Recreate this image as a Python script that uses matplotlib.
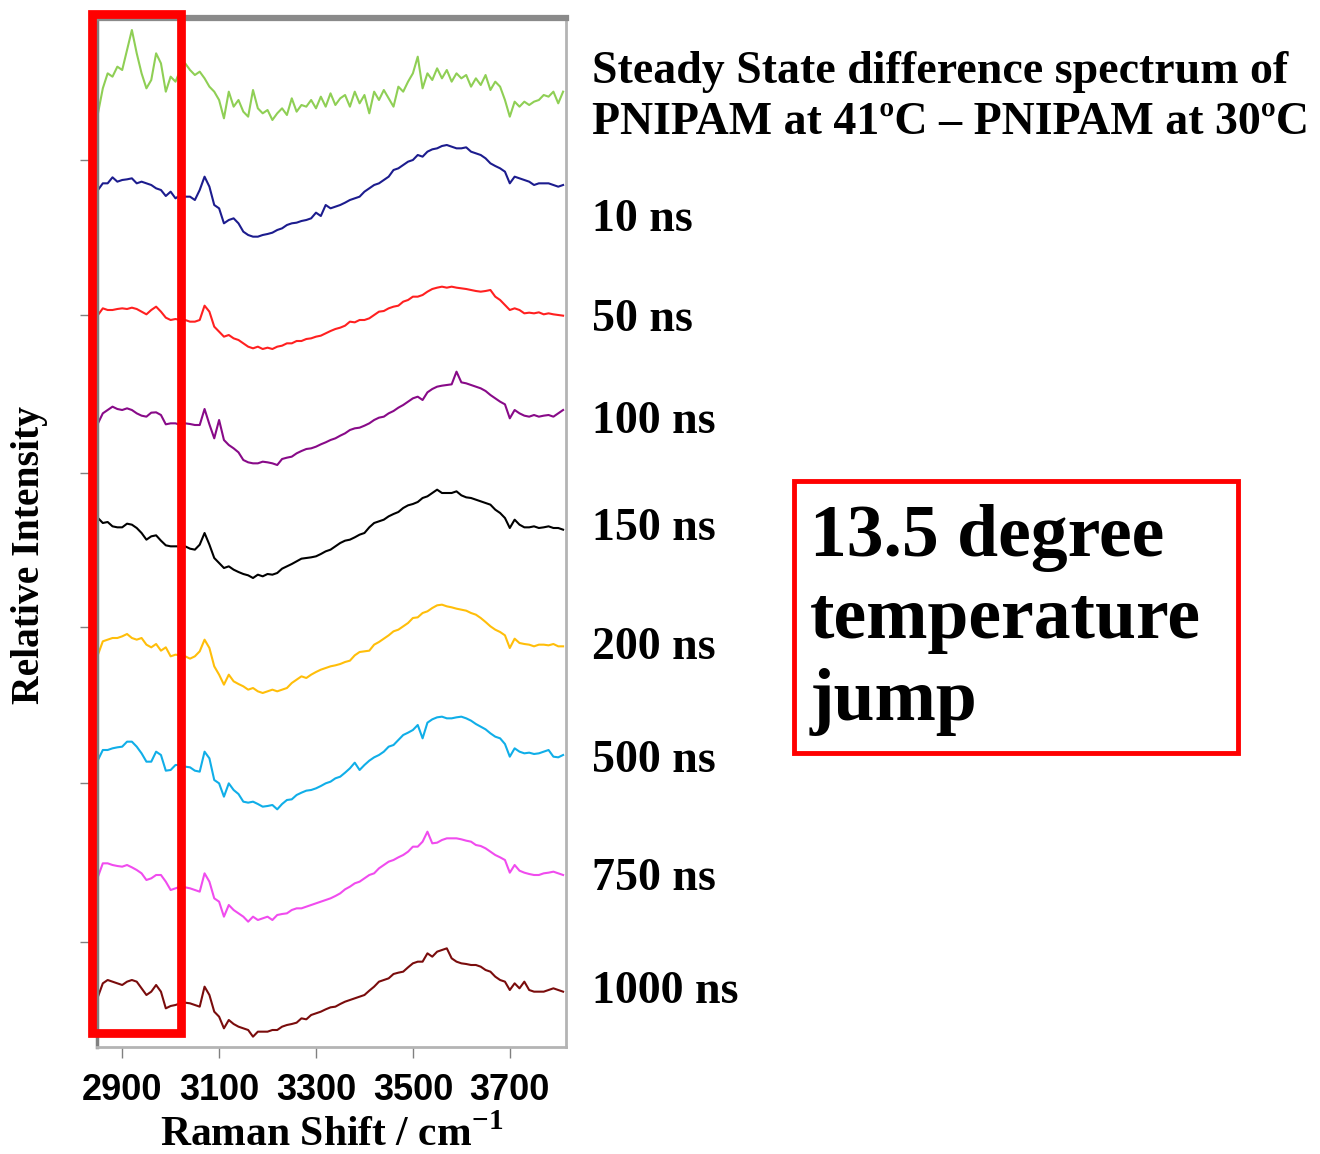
#!/usr/bin/env python3
"""Stacked time-resolved Raman difference spectra (PNIPAM T-jump)"""

import numpy as np
import matplotlib
matplotlib.use('Agg')
import matplotlib.pyplot as plt
from matplotlib.patches import Rectangle

W, H = 1320, 1154

# spectrum grid, cm-1
wavenumber = np.arange(2850, 3811, 10)

# relative intensities (arb. units)
steady = [20, 95, 140, 130, 160, 150, 210, 270, 200, 140,
          95, 120, 200, 170, 85, 130, 115, 150, 170, 150,
          135, 145, 125, 100, 85, 60, 5, 85, 40, 60,
          25, 10, 90, 35, 20, 30, 0, 20, 35, 15,
          65, 25, 45, 40, 60, 35, 70, 40, 80, 45,
          65, 75, 40, 85, 50, 75, 20, 85, 60, 90,
          65, 40, 100, 85, 115, 140, 190, 95, 140, 120,
          155, 125, 150, 115, 140, 125, 135, 100, 125, 105,
          135, 90, 115, 100, 60, 10, 55, 40, 55, 45,
          55, 60, 75, 70, 85, 50, 85]
t10 = [-10, 10, 10, 28, 15, 20, 22, 25, 10, 15,
       10, 5, -5, -10, -28, -15, -35, -25, -30, -30,
       -40, -10, 30, 0, -55, -65, -110, -100, -95, -110,
       -135, -145, -150, -150, -145, -142, -138, -130, -125, -115,
       -110, -108, -103, -100, -95, -78, -88, -55, -65, -60,
       -55, -48, -40, -35, -30, -15, -5, 5, 10, 20,
       30, 50, 55, 65, 75, 80, 95, 90, 105, 112,
       115, 122, 125, 120, 115, 115, 118, 105, 100, 95,
       85, 70, 62, 55, 45, 10, 30, 25, 20, 15,
       5, 10, 10, 10, 5, 0, 5]
t50 = [-10, 10, 5, 5, 8, 10, 8, 12, 8, 0,
       -8, 5, 15, 0, -18, -25, -22, -25, -25, -30,
       -30, -25, 18, 0, -45, -60, -75, -70, -80, -85,
       -95, -105, -110, -105, -112, -108, -112, -105, -102, -95,
       -95, -88, -88, -82, -80, -75, -72, -65, -58, -52,
       -48, -42, -30, -32, -25, -25, -20, -10, 0, 2,
       10, 15, 18, 30, 35, 45, 45, 50, 60, 68,
       72, 75, 72, 75, 72, 70, 68, 65, 62, 60,
       62, 65, 45, 35, 20, 5, 10, 5, -5, -3,
       -5, -2, -8, -5, -8, -10, -12]
t100 = [-35, -5, 5, 15, 8, 5, 10, 5, -5, -12,
        -15, -3, -2, -10, -38, -35, -35, -40, -35, -37,
        -40, -40, 8, -38, -80, -25, -85, -100, -110, -122,
        -145, -152, -155, -155, -150, -152, -155, -160, -142, -138,
        -135, -125, -118, -112, -110, -105, -98, -92, -85, -80,
        -72, -65, -55, -50, -48, -42, -35, -25, -18, -15,
        -5, 2, 12, 20, 30, 40, 45, 35, 58, 68,
        75, 78, 80, 82, 120, 88, 85, 80, 75, 70,
        62, 50, 40, 30, 22, -20, 5, -5, -12, -15,
        -10, -15, -12, -10, -15, -5, 5]
t150 = [20, 5, 8, -5, -8, -8, 3, 0, -10, -25,
        -45, -35, -32, -48, -62, -65, -65, -65, -65, -72,
        -75, -60, -25, -60, -100, -115, -130, -125, -135, -142,
        -148, -152, -160, -150, -155, -148, -150, -145, -132, -125,
        -118, -110, -102, -100, -98, -95, -88, -80, -75, -65,
        -55, -48, -45, -38, -30, -25, -8, 5, 10, 15,
        25, 32, 38, 50, 58, 62, 68, 80, 85, 95,
        105, 95, 95, 95, 100, 88, 82, 80, 75, 70,
        65, 60, 45, 35, 20, -10, 15, 0, -8, -8,
        -5, -10, -8, -5, -10, -10, -15]
t200 = [-40, 0, 5, 10, 10, 15, 22, 10, 5, 10,
        -10, -18, -8, -28, -18, -45, -40, -42, -45, -52,
        -45, -30, 5, -20, -75, -100, -130, -100, -120, -128,
        -135, -145, -140, -150, -155, -150, -145, -150, -145, -140,
        -125, -115, -105, -110, -100, -92, -85, -80, -75, -72,
        -68, -62, -58, -42, -32, -30, -28, -10, -2, 8,
        18, 30, 35, 45, 55, 70, 72, 85, 90, 100,
        108, 110, 105, 102, 98, 95, 92, 85, 80, 70,
        58, 45, 35, 28, 18, -20, 8, -5, -8, -10,
        -15, -10, -10, -12, -8, -15, -15]
t500 = [-30, 0, 0, 5, 8, 10, 25, 25, 10, -10,
        -35, -35, -5, -15, -62, -60, -45, -45, -50, -52,
        -62, -65, -5, -25, -90, -100, -140, -100, -120, -132,
        -155, -158, -155, -162, -170, -168, -165, -178, -162, -150,
        -148, -135, -128, -122, -120, -115, -108, -100, -95, -85,
        -80, -68, -55, -38, -60, -45, -32, -22, -15, -5,
        10, 15, 30, 45, 52, 60, 75, 35, 82, 92,
        98, 100, 95, 95, 98, 100, 95, 88, 78, 70,
        62, 50, 40, 35, 18, -20, 5, -5, -10, -8,
        -12, -10, -5, 0, -20, -22, -15]
t750 = [-30, 10, 10, 5, 2, 0, 5, -2, -10, -20,
        -40, -35, -25, -25, -45, -70, -65, -60, -62, -65,
        -70, -75, -20, -45, -95, -105, -150, -115, -130, -140,
        -150, -165, -150, -160, -155, -150, -160, -145, -142, -140,
        -130, -125, -125, -120, -115, -110, -105, -100, -95, -88,
        -80, -68, -60, -50, -45, -35, -25, -20, -5, 5,
        15, 20, 28, 35, 45, 60, 60, 75, 105, 70,
        72, 80, 85, 85, 85, 82, 78, 75, 65, 62,
        55, 45, 35, 28, 20, -18, 5, -12, -18, -22,
        -25, -25, -20, -18, -15, -20, -25]
t1000 = [-40, 0, 10, 5, 0, -5, 5, 10, 5, -15,
         -35, -25, -5, -25, -75, -68, -65, -60, -58, -60,
         -65, -70, -10, -35, -85, -100, -135, -110, -122, -130,
         -135, -140, -160, -145, -145, -145, -140, -140, -130, -125,
         -122, -118, -105, -108, -95, -90, -85, -78, -72, -70,
         -62, -55, -50, -45, -40, -35, -22, -10, 5, 10,
         15, 28, 32, 35, 48, 60, 65, 65, 90, 80,
         95, 100, 105, 75, 65, 60, 58, 55, 55, 50,
         40, 35, 20, 10, 5, -20, 0, -15, 5, -20,
         -25, -25, -25, -20, -15, -20, -25]

spectra = [steady, t10, t50, t100, t150, t200, t500, t750, t1000]
offsets = [2790, 2590, 2215, 1915, 1576, 1226, 900, 550, 200]
colors = ['#8fcf55', '#1c1c8e', '#ff2020', '#880a88', '#000000',
          '#ffbe0a', '#10aee8', '#f04cee', '#7a0c0c']

delay_labels = ['10 ns', '50 ns', '100 ns', '150 ns', '200 ns',
                '500 ns', '750 ns', '1000 ns']
label_py = [217, 317, 419, 526, 645, 758, 876, 989]

xticks = [2900, 3100, 3300, 3500, 3700]
yticks = [324, 801, 1269, 1731, 2205, 2670]

SERIF = 'Liberation Serif'
plt.rcParams['mathtext.fontset'] = 'custom'
plt.rcParams['mathtext.rm'] = 'Liberation Serif'
plt.rcParams['mathtext.bf'] = 'Liberation Serif:bold'


def fxy(px, py):
    return px / W, 1 - py / H


fig = plt.figure(figsize=(W / 100, H / 100), dpi=100)
ax = fig.add_axes([97 / W, 1 - 1047 / H, (566 - 97) / W, (1047 - 18) / H])

for vals, off, col in zip(spectra, offsets, colors):
    ax.plot(wavenumber, off + np.asarray(vals), color=col, lw=1.5)

ax.set_xlim(2848, 3816)
ax.set_ylim(9, 3096)
ax.set_xticks(xticks)
ax.set_yticks(yticks)
ax.set_yticklabels([])
ax.tick_params(axis='x', direction='out', length=8, width=1, color='#808080',
               pad=11, labelsize=26)
ax.tick_params(axis='y', direction='out', length=12, width=1, color='#808080')
for lab in ax.get_xticklabels():
    lab.set_fontfamily('Liberation Sans')
    lab.set_fontweight('bold')

ax.spines['top'].set_linewidth(4.5)
ax.spines['top'].set_color('#8a8a8a')
ax.spines['left'].set_linewidth(2.5)
ax.spines['left'].set_color('#808080')
for s in ('right', 'bottom'):
    ax.spines[s].set_linewidth(2)
    ax.spines[s].set_color('#b4b4b4')

# axis titles
fig.text(*fxy(332, 1146), 'Raman Shift / cm$^{\\mathbf{-1}}$', ha='center', va='baseline',
         fontsize=30, fontweight='bold', family=SERIF)
fig.text(*fxy(30, 555), 'Relative Intensity', ha='center', va='center', rotation=90,
         fontsize=28.5, fontweight='bold', family=SERIF)

# trace labels
fig.text(*fxy(592, 83), 'Steady State difference spectrum of', ha='left', va='baseline',
         fontsize=33, fontweight='bold', family=SERIF)
fig.text(*fxy(592, 134), 'PNIPAM at 41\u00baC \u2013 PNIPAM at 30\u00baC', ha='left',
         va='baseline', fontsize=33, fontweight='bold', family=SERIF)
for lab, py in zip(delay_labels, label_py):
    fig.text(*fxy(592, py + 14), lab, ha='left', va='baseline',
             fontsize=33, fontweight='bold', family=SERIF)

# highlight box over the CH stretch region
x0, y0 = fxy(92, 1033)
fig.add_artist(Rectangle((x0, y0), (181 - 92) / W, (1033 - 14) / H,
                         transform=fig.transFigure, fill=False,
                         edgecolor='#ff0000', linewidth=6.3))

# annotation box
bx, by = fxy(794, 753)
fig.add_artist(Rectangle((bx, by), (1238 - 794) / W, (753 - 481) / H,
                         transform=fig.transFigure, fill=False,
                         edgecolor='#ff0000', linewidth=3.5))
for txt, py in zip(['13.5 degree', 'temperature', 'jump'], [556, 638, 720]):
    fig.text(*fxy(810, py), txt, ha='left', va='baseline',
             fontsize=53, fontweight='bold', family=SERIF)

fig.savefig('out.png', dpi=100)
